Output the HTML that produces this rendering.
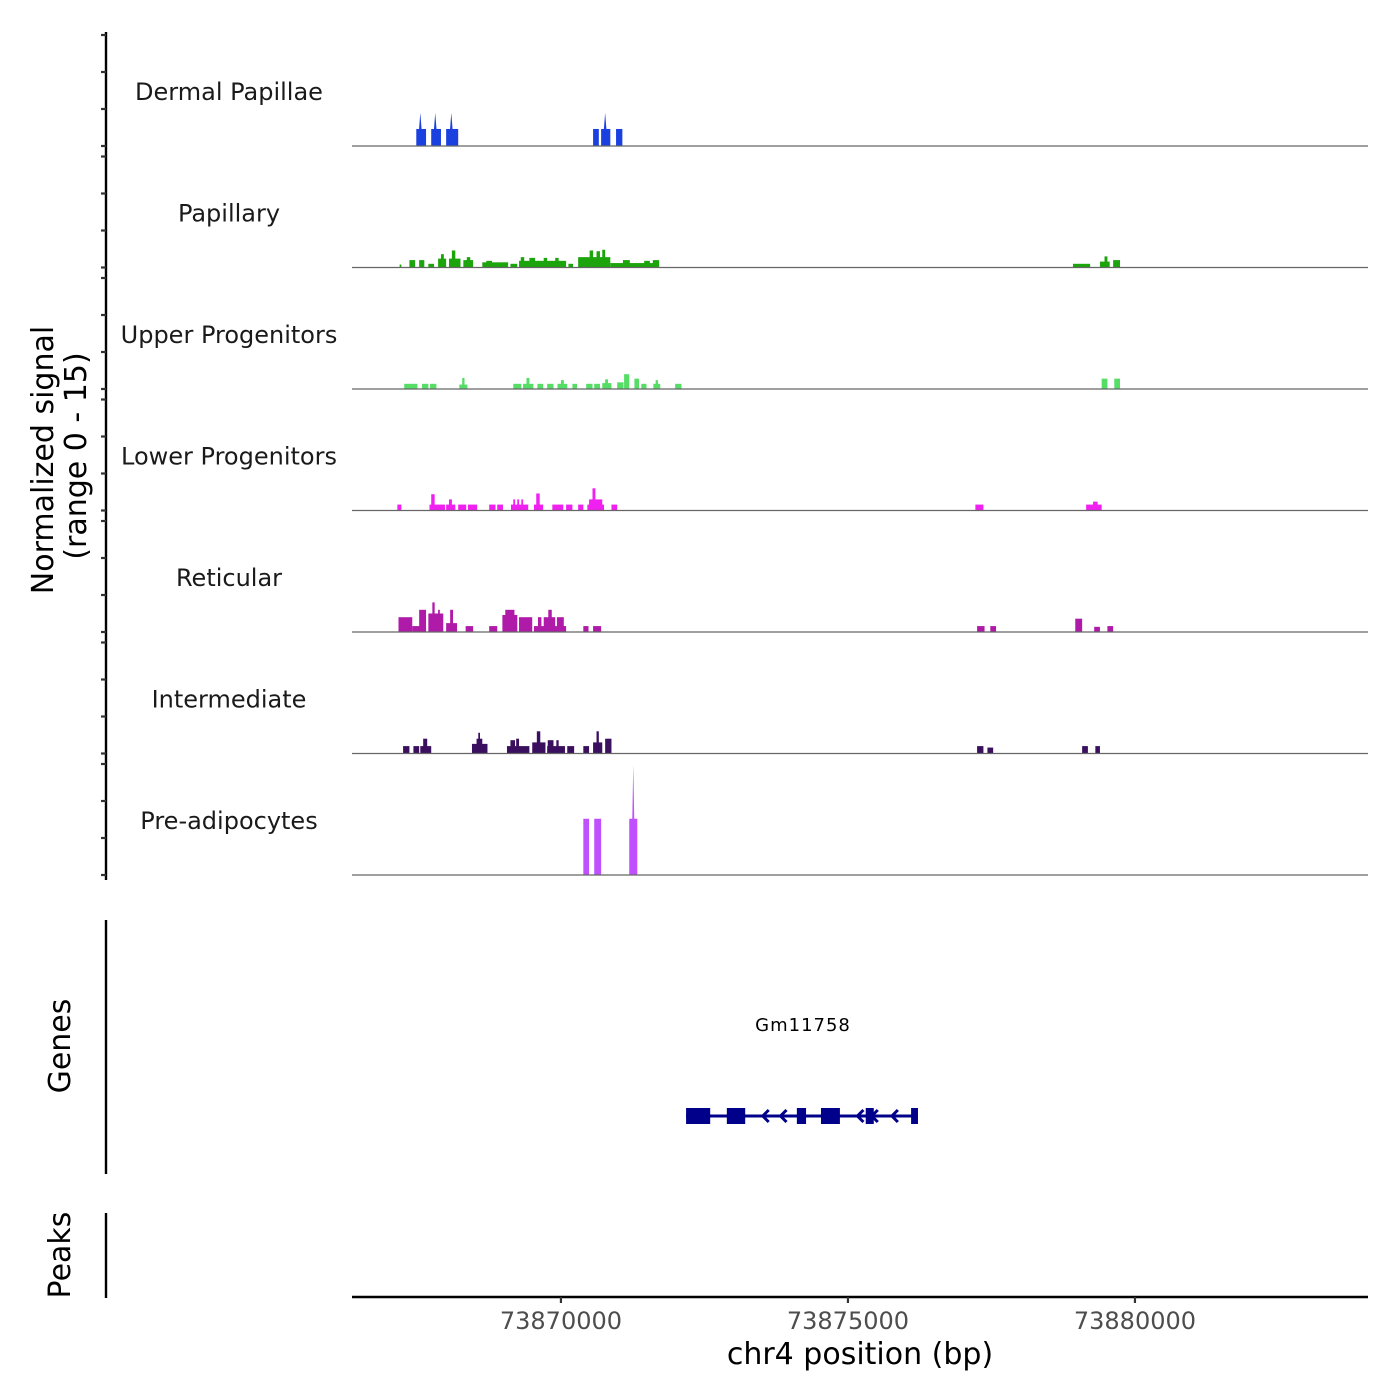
<!DOCTYPE html>
<html><head><meta charset="utf-8"><style>
html,body{margin:0;padding:0;background:#fff;}
svg{display:block;font-family:"DejaVu Sans","Liberation Sans",sans-serif;}
</style></head><body>
<svg id="chart" width="1400" height="1400" viewBox="0 0 1400 1400" xmlns="http://www.w3.org/2000/svg">
<g id="axes"></g>
<g id="tracks"></g>
<g id="genes"></g>
<text transform="translate(53,460) rotate(-90)" text-anchor="middle" font-size="30" fill="#000">Normalized signal</text>
<text transform="translate(86,456) rotate(-90)" text-anchor="middle" font-size="30" fill="#000">(range 0 - 15)</text>
<text transform="translate(70,1046) rotate(-90)" text-anchor="middle" font-size="30" fill="#000">Genes</text>
<text transform="translate(70,1255) rotate(-90)" text-anchor="middle" font-size="30" fill="#000">Peaks</text>
<text x="860" y="1364" text-anchor="middle" font-size="30" fill="#000">chr4 position (bp)</text>
</svg>
<script>
// ---- data (positions in kb on chr4, values in normalized signal 0-15) ----
const regionStartKb = 73866.36;
const regionEndKb = 73884.06;
const xTickValues = [73870000, 73875000, 73880000];
const xTickLabels = ["73870000", "73875000", "73880000"];
const yTickValues = [0, 5, 10, 15];
const trackNames = ["Dermal Papillae","Papillary","Upper Progenitors","Lower Progenitors","Reticular","Intermediate","Pre-adipocytes"];
const trackColors = ["#1a40e0","#1ca40c","#55dd66","#f020f0","#b01aa8","#3a0f5e","#c050ff"];
const dermalSegments = [[73867.48,73867.65,2.3],[73867.74,73867.91,2.3],[73868.00,73868.21,2.3],[73870.56,73870.66,2.3],[73870.70,73870.86,2.3],[73870.96,73871.07,2.3]];
const dermalSpikes = [[73867.55,4.5],[73867.81,4.5],[73868.09,4.5],[73870.77,4.5]];
const papillarySegments = [[73867.19,73867.22,0.4],[73867.36,73867.46,1.0],[73867.53,73867.62,1.0],[73867.69,73867.79,0.5],[73867.86,73868.00,1.2],[73867.91,73867.96,1.8],[73868.05,73868.25,1.2],[73868.10,73868.16,2.3],[73868.30,73868.47,1.0],[73868.36,73868.42,1.4],[73868.63,73869.08,0.7],[73868.70,73868.80,0.9],[73869.12,73869.24,0.5],[73869.27,73870.09,0.9],[73869.30,73869.36,1.4],[73869.45,73869.55,1.3],[73869.70,73869.76,1.3],[73869.90,73869.96,1.3],[73870.13,73870.21,0.5],[73870.30,73870.86,1.4],[73870.50,73870.56,2.3],[73870.62,73870.68,2.2],[73870.72,73870.77,2.4],[73870.86,73871.71,0.6],[73871.08,73871.20,1.0],[73871.45,73871.55,0.9],[73871.60,73871.71,1.0],[73878.92,73879.22,0.5],[73879.39,73879.56,0.8],[73879.47,73879.52,1.5],[73879.62,73879.74,1.0]];
const upperSegments = [[73867.27,73867.50,0.7],[73867.58,73867.69,0.7],[73867.72,73867.83,0.7],[73868.23,73868.37,0.6],[73868.28,73868.32,1.5],[73869.17,73869.31,0.7],[73869.34,73869.52,0.7],[73869.40,73869.45,1.5],[73869.59,73869.69,0.7],[73869.76,73869.87,0.7],[73869.94,73870.11,0.7],[73870.00,73870.05,1.2],[73870.20,73870.28,0.7],[73870.44,73870.55,0.7],[73870.58,73870.68,0.7],[73870.72,73870.88,0.8],[73870.77,73870.82,1.3],[73870.98,73871.09,0.9],[73871.10,73871.19,2.0],[73871.28,73871.36,1.4],[73871.40,73871.49,0.7],[73871.61,73871.73,0.7],[73871.65,73871.69,1.2],[73871.99,73872.10,0.7],[73879.42,73879.52,1.4],[73879.64,73879.74,1.4]];
const lowerSegments = [[73867.15,73867.22,0.8],[73867.71,73867.98,0.8],[73867.74,73867.80,2.2],[73868.00,73868.16,0.8],[73868.05,73868.10,1.5],[73868.21,73868.35,0.8],[73868.38,73868.54,0.8],[73868.75,73868.86,0.8],[73868.89,73868.99,0.8],[73869.13,73869.43,0.8],[73869.17,73869.20,1.5],[73869.24,73869.27,1.5],[73869.31,73869.34,1.5],[73869.53,73869.69,0.8],[73869.57,73869.63,2.3],[73869.85,73870.04,0.8],[73870.09,73870.20,0.8],[73870.30,73870.39,0.8],[73870.46,73870.75,0.8],[73870.49,73870.72,1.5],[73870.55,73870.60,3.0],[73870.88,73870.98,0.8],[73877.22,73877.36,0.8],[73879.15,73879.42,0.8],[73879.27,73879.35,1.2]];
const reticularSegments = [[73867.17,73867.41,2.0],[73867.41,73867.65,0.8],[73867.53,73867.65,3.0],[73867.69,73867.95,2.5],[73867.76,73867.80,4.0],[73867.86,73867.89,3.0],[73868.00,73868.19,1.2],[73868.07,73868.12,3.0],[73868.34,73868.47,0.8],[73868.75,73868.89,0.8],[73868.98,73869.24,2.3],[73869.03,73869.19,3.0],[73869.27,73869.50,2.0],[73869.53,73870.09,0.8],[73869.60,73869.66,2.0],[73869.70,73869.90,2.0],[73869.78,73869.84,3.0],[73869.93,73870.05,2.0],[73870.39,73870.48,0.8],[73870.56,73870.70,0.8],[73877.25,73877.38,0.8],[73877.48,73877.58,0.8],[73878.96,73879.08,1.8],[73879.29,73879.39,0.7],[73879.52,73879.62,0.8]];
const intermediateSegments = [[73867.25,73867.36,1.0],[73867.43,73867.53,1.0],[73867.55,73867.74,1.0],[73867.60,73867.67,2.0],[73868.45,73868.72,1.3],[73868.53,73868.63,2.0],[73868.56,73868.59,2.8],[73869.06,73869.45,1.0],[73869.12,73869.20,1.8],[73869.22,73869.27,2.0],[73869.50,73869.73,1.5],[73869.58,73869.64,3.0],[73869.76,73870.07,1.0],[73869.77,73869.87,1.8],[73869.92,73869.96,1.8],[73870.11,73870.23,1.0],[73870.39,73870.49,1.0],[73870.56,73870.72,1.5],[73870.62,73870.66,3.0],[73870.77,73870.88,2.0],[73877.25,73877.36,1.0],[73877.43,73877.53,0.8],[73879.08,73879.18,1.0],[73879.31,73879.39,1.0]];
const preadipoSegments = [[73870.39,73870.49,7.6],[73870.58,73870.70,7.6],[73871.19,73871.33,7.6]];
const preadipoSpikes = [[73871.26,14.9]];
const geneName = "Gm11758";
const geneStartKb = 73872.18;
const geneEndKb = 73876.22;
const geneExons = [[73872.18,73872.60],[73872.89,73873.21],[73874.11,73874.27],[73874.53,73874.86],[73875.31,73875.45],[73876.10,73876.22]];
const geneArrowsKb = [73873.55,73873.86,73874.18,73874.60,73875.20,73875.45,73875.80];

// ---- layout ----
const NS = "http://www.w3.org/2000/svg";
const plotL = 352, plotR = 1368;
const firstBase = 146, trackStep = 121.5, pxPerUnit = 7.4;
function xScale(kb){ return plotL + (kb - regionStartKb) / (regionEndKb - regionStartKb) * (plotR - plotL); }
function yScale(trackIdx, v){ return firstBase + trackIdx * trackStep - v * pxPerUnit; }
function mk(tag, attrs, parent){ const e = document.createElementNS(NS, tag); for (const k in attrs) e.setAttribute(k, attrs[k]); parent.appendChild(e); return e; }

const axes = document.getElementById('axes');
const tracksG = document.getElementById('tracks');
const genesG = document.getElementById('genes');

let l = mk('line', {x1:106, y1:32, x2:106, y2:880, stroke:'#000', 'stroke-width':2.4}, axes);


l = mk('line', {x1:106, y1:920, x2:106, y2:1174, stroke:'#000', 'stroke-width':2.4}, axes);


l = mk('line', {x1:106, y1:1213, x2:106, y2:1298, stroke:'#000', 'stroke-width':2.4}, axes);


l = mk('line', {x1:352, y1:1297, x2:1368, y2:1297, stroke:'#000', 'stroke-width':2.4}, axes);



for (let t = 0; t < trackNames.length; t++) {
  for (const v of yTickValues) {
    const y = yScale(t, v);
    const tk = mk('line', {x1:101, y1:y, x2:106, y2:y, stroke:'#333', 'stroke-width':2.2}, axes);
    
    
  }
}
xTickValues.forEach((v, i) => {
  const x = xScale(v / 1000);
  const tk = mk('line', {x1:x, y1:1297, x2:x, y2:1303, stroke:'#333', 'stroke-width':2.2}, axes);
  
  
  const tl = mk('text', {x:x, y:1329, 'text-anchor':'middle', 'font-size':24, fill:'#4d4d4d'}, axes);
  tl.textContent = xTickLabels[i];
  
  
});

const allSegments = [dermalSegments, papillarySegments, upperSegments, lowerSegments, reticularSegments, intermediateSegments, preadipoSegments];
const allSpikes = [dermalSpikes, [], [], [], [], [], preadipoSpikes];
trackNames.forEach((name, t) => {
  const g = mk('g', {}, tracksG);
  
  
  const base = yScale(t, 0);
  const lab = mk('text', {x:229, y:base - 46, 'text-anchor':'middle', 'font-size':24, fill:'#1a1a1a'}, g);
  lab.textContent = name;
  
  
  for (const s of allSegments[t]) {
    const x1 = xScale(s[0]), x2 = xScale(s[1]), y = yScale(t, s[2]);
    const r = mk('rect', {x:x1, y:y, width:Math.max(1, x2 - x1), height:base - y, fill:trackColors[t]}, g);
    
    
  }
  for (const sp of allSpikes[t]) {
    const x = xScale(sp[0]), y = yScale(t, sp[1]);
    const p = mk('polygon', {points:`${x-1.8},${base-10} ${x},${y} ${x+1.8},${base-10} ${x+1.8},${base} ${x-1.8},${base}`, fill:trackColors[t]}, g);
    
    
  }
  const bl = mk('line', {x1:plotL, y1:base, x2:plotR, y2:base, stroke:'#666', 'stroke-width':1.2}, g);
  
  
});

const gy = 1116;
const gl = mk('line', {x1:xScale(geneStartKb), y1:gy, x2:xScale(geneEndKb), y2:gy, stroke:'#00008b', 'stroke-width':3}, genesG);


for (const e of geneExons) {
  const x1 = xScale(e[0]), x2 = xScale(e[1]);
  const r = mk('rect', {x:x1, y:gy - 8, width:x2 - x1, height:16, fill:'#00008b'}, genesG);
  
  
}
for (const a of geneArrowsKb) {
  const x = xScale(a);
  const p = mk('polyline', {points:`${x+4},${gy-6} ${x-2},${gy} ${x+4},${gy+6}`, fill:'none', stroke:'#00008b', 'stroke-width':3}, genesG);
  
  
}
const gt = mk('text', {x:(xScale(geneStartKb) + xScale(geneEndKb)) / 2 + 1, y:1031, 'text-anchor':'middle', 'font-size':18, 'letter-spacing':1, fill:'#000'}, genesG);
gt.textContent = geneName;


</script>
</body></html>
